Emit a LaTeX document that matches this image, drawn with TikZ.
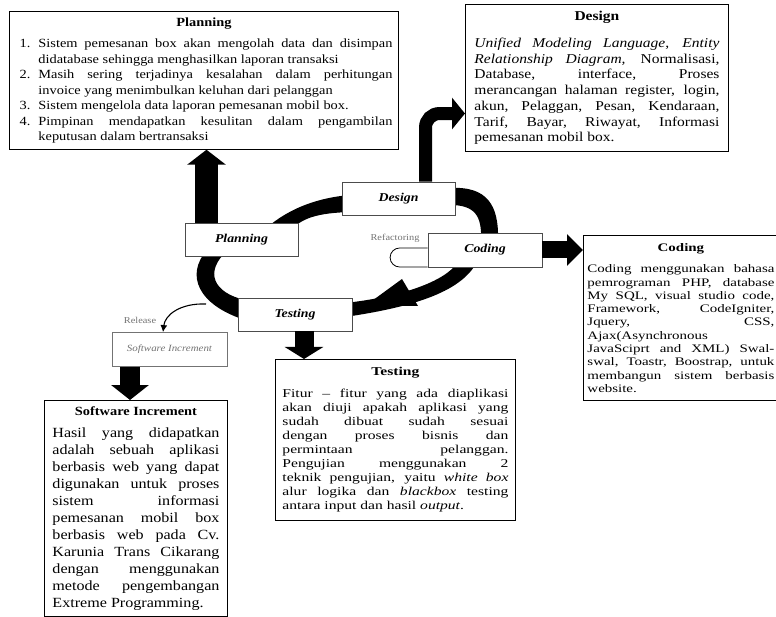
\documentclass[tikz,border=0pt]{standalone}
\usepackage{fontspec}
\setmainfont{Liberation Serif}[FakeStretch=1.15]
\newfontfamily\widerfont{Liberation Serif}[FakeStretch=1.3]
\usetikzlibrary{arrows.meta}
\tolerance=10000
\hbadness=10000

\tikzset{
  stage/.style={draw=black!70, fill=white, line width=0.8pt, minimum width=113pt, minimum height=33pt, inner sep=0pt, font=\fontsize{12}{14}\selectfont\bfseries\itshape},
  infobox/.style={draw, line width=0.9pt, fill=white, anchor=north west, align=justify, inner ysep=6pt},
  fatarrow/.style args={#1/#2/#3}{line width=#1, -{Triangle[width=#2,length=#3]}},
  thinarrow/.style={line width=1.1pt, -{Latex[length=7pt,width=7pt]}},
  remark/.style={text=black!55, font=\fontsize{9}{10}\selectfont},
}

\begin{document}
\begin{tikzpicture}[x=1pt,y=-1pt]
    \useasboundingbox (0,0) rectangle (776,617);
    % the cycle
    \fill (262,232) .. controls (285,210) and (315,198) .. (350,195) -- (350,212) .. controls (318,213) and (300,218) .. (290,232) -- cycle;
    \fill (450,188) .. controls (487,186) and (499,205) .. (498,240) -- (481,240) .. controls (482,216) and (475,205) .. (450,205) -- cycle;
    \fill (477,262) .. controls (462,290) and (420,306) .. (345,317) -- (345,303) .. controls (400,297) and (445,282) .. (458,262) -- cycle;
    \fill (365,306) -- (402,279) -- (418,306) -- cycle;
    \fill (207,250) .. controls (185,275) and (198,305) .. (245,320) -- (245,300) .. controls (214,293) and (203,272) .. (228,250) -- cycle;
    \node[stage] (plan) at (241.5,240) {Planning};
    \node[stage] (design) at (398.5,198.5) {Design};
    \node[stage, minimum width=114pt, minimum height=34pt] (coding) at (485,250) {Coding};
    \node[stage, minimum width=114pt] (testing) at (295,314.5) {Testing};
    \node[stage, minimum width=115pt, minimum height=34pt, draw=black!55, text=black!55, font=\fontsize{9.5}{11}\selectfont\itshape] (increment) at (169.5,349.5) {Software Increment};
    % refactoring and release
    \draw[line width=0.8pt] ([yshift=2pt]coding.west) -- ++(-28,0) arc[start angle=90, end angle=270, radius=9.5pt] -- ([yshift=-17pt]coding.west);
    \node[remark] (refac) at (395,238) {Refactoring};
    \coordinate (relstart) at (206,304);
    \draw[thinarrow] (relstart) .. controls (180,303) and (165,315) .. ([xshift=-6.5pt]increment.north);
    \node[remark] (rel) at (140,320) {Release};
    % the boxes
    \node[infobox, inner xsep=6pt, text width=377pt, font=\fontsize{12.5}{15.5}\selectfont] (plantext) at (9,11) {{\centering\bfseries Planning\par}\vspace{6pt}%
      \begin{list}{\arabic{enumi}.}{\usecounter{enumi}\setlength{\leftmargin}{23pt}\setlength{\labelwidth}{15pt}\setlength{\labelsep}{8pt}\setlength{\itemsep}{0pt}\setlength{\parsep}{0pt}\setlength{\topsep}{0pt}\setlength{\partopsep}{0pt}}
      \item Sistem pemesanan box akan mengolah data dan disimpan \linebreak didatabase sehingga menghasilkan laporan transaksi
      \item Masih sering terjadinya kesalahan dalam perhitungan \linebreak invoice yang menimbulkan keluhan dari pelanggan
      \item Sistem mengelola data laporan pemesanan mobil box.
      \item Pimpinan mendapatkan kesulitan dalam pengambilan \linebreak keputusan dalam bertransaksi
      \end{list}};
    \node[infobox, inner xsep=9pt, inner ysep=7pt, text width=245pt, font=\fontsize{13.5}{15.7}\selectfont] (designtext) at (465,4) {{\centering\bfseries Design\par}\vspace{11pt}%
      \textit{Unified Modeling Language}, \textit{Entity} \linebreak \textit{Relationship Diagram,} Normalisasi, \linebreak Database, interface, Proses \linebreak merancangan halaman register, login, \linebreak akun, Pelaggan, Pesan, Kendaraan, \linebreak Tarif, Bayar, Riwayat, Informasi \linebreak pemesanan mobil box.};
    \node[infobox, inner xsep=4pt, inner ysep=8pt, text width=187pt, font=\widerfont\fontsize{11.5}{13.3}\selectfont] (codingtext) at (583,235) {{\centering\bfseries Coding\par}\vspace{8pt}%
      Coding menggunakan bahasa \linebreak pemrograman PHP, database \linebreak My SQL, visual studio code, \linebreak Framework, CodeIgniter, \linebreak Jquery, CSS, \linebreak Ajax(Asynchronous\newline JavaSciprt and XML) Swal-\linebreak swal, Toastr, Boostrap, untuk \linebreak membangun sistem berbasis \linebreak website.};
    \node[infobox, inner xsep=7pt, inner ysep=8pt, text width=226pt, font=\widerfont\fontsize{12}{14}\selectfont] (testtext) at (275,359) {{\centering\bfseries Testing\par}\vspace{8pt}%
      Fitur – fitur yang ada diaplikasi \linebreak akan diuji apakah aplikasi yang \linebreak sudah dibuat sudah sesuai \linebreak dengan proses bisnis dan \linebreak permintaan pelanggan. \linebreak Pengujian menggunakan 2 \linebreak teknik pengujian, yaitu \textit{white box} \linebreak alur logika dan \textit{blackbox} testing \linebreak antara input dan hasil \textit{output}.};
    \node[infobox, inner xsep=8pt, text width=167pt, font=\fontsize{14}{17}\selectfont] (incrtext) at (44,400) {{\centering\bfseries\fontsize{12.5}{14}\selectfont Software Increment\par}\vspace{5pt}%
      Hasil yang didapatkan \linebreak adalah sebuah aplikasi \linebreak berbasis web yang dapat \linebreak digunakan untuk proses \linebreak sistem informasi \linebreak pemesanan mobil box \linebreak berbasis web pada Cv. \linebreak Karunia Trans Cikarang \linebreak dengan menggunakan \linebreak metode pengembangan \linebreak Extreme Programming.};
    % block arrows
    \draw[fatarrow=23pt/38pt/15pt] ([xshift=-35pt]plan.north) -- ([xshift=-35pt]plan.north |- plantext.south);
    \draw[fatarrow=13pt/31pt/13pt, rounded corners=14pt] ([xshift=27pt]design.north) |- ([yshift=-35.5pt]designtext.west);
    \draw[fatarrow=17pt/31pt/16pt] (coding.east) -- (coding.east -| codingtext.west);
    \draw[fatarrow=19pt/38pt/12pt] ([xshift=9pt]testing.south) -- ([xshift=9pt]testing.south |- testtext.north);
    \draw[fatarrow=20pt/37pt/15pt] ([xshift=-39.5pt]increment.south) -- ([xshift=-39.5pt]increment.south |- incrtext.north);
\end{tikzpicture}
\end{document}
